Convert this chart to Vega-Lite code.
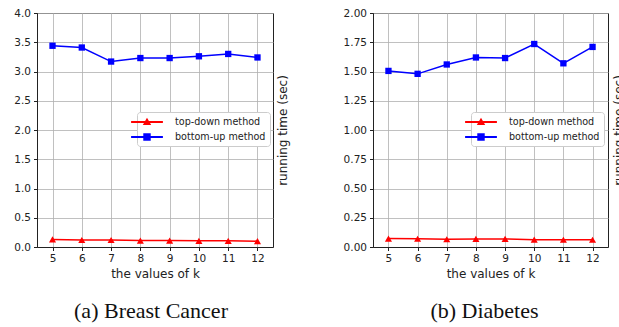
{
  "$schema": "https://vega.github.io/schema/vega-lite/v6.json",
  "padding": {"left": 13, "top": 7, "right": 0, "bottom": 0},
  "background": "white",
  "config": {
    "font": "DejaVu Sans",
    "view": {"stroke": "#222", "strokeWidth": 1},
    "axis": {
      "labelFont": "DejaVu Sans", "labelFontSize": 10.5, "labelColor": "#222",
      "titleFont": "DejaVu Sans", "titleFontSize": 12, "titleFontWeight": "normal", "titleColor": "#222",
      "gridColor": "#b0b0b0", "gridWidth": 0.8, "gridOpacity": 1,
      "domainColor": "#222", "tickColor": "#222", "tickSize": 3.5, "labelPadding": 3
    },
    "legend": {
      "labelFont": "DejaVu Sans", "labelFontSize": 9.6, "labelColor": "#222",
      "strokeColor": "#cccccc", "fillColor": "white", "padding": 4, "cornerRadius": 3,
      "rowPadding": 4, "symbolSize": 144, "labelOffset": 22, "symbolOpacity": 1, "symbolStrokeWidth": 0
    },
    "title": {"font": "Liberation Serif", "fontSize": 22, "fontWeight": "normal", "color": "#111", "orient": "bottom", "offset": 22}
  },
  "datasets": {
    "runs": [
      {"dataset": "Breast Cancer", "k": 5, "method": "top-down method", "time": 0.13},
      {"dataset": "Breast Cancer", "k": 6, "method": "top-down method", "time": 0.12},
      {"dataset": "Breast Cancer", "k": 7, "method": "top-down method", "time": 0.12},
      {"dataset": "Breast Cancer", "k": 8, "method": "top-down method", "time": 0.11},
      {"dataset": "Breast Cancer", "k": 9, "method": "top-down method", "time": 0.11},
      {"dataset": "Breast Cancer", "k": 10, "method": "top-down method", "time": 0.105},
      {"dataset": "Breast Cancer", "k": 11, "method": "top-down method", "time": 0.105},
      {"dataset": "Breast Cancer", "k": 12, "method": "top-down method", "time": 0.10},
      {"dataset": "Breast Cancer", "k": 5, "method": "bottom-up method", "time": 3.44},
      {"dataset": "Breast Cancer", "k": 6, "method": "bottom-up method", "time": 3.41},
      {"dataset": "Breast Cancer", "k": 7, "method": "bottom-up method", "time": 3.17},
      {"dataset": "Breast Cancer", "k": 8, "method": "bottom-up method", "time": 3.23},
      {"dataset": "Breast Cancer", "k": 9, "method": "bottom-up method", "time": 3.23},
      {"dataset": "Breast Cancer", "k": 10, "method": "bottom-up method", "time": 3.26},
      {"dataset": "Breast Cancer", "k": 11, "method": "bottom-up method", "time": 3.30},
      {"dataset": "Breast Cancer", "k": 12, "method": "bottom-up method", "time": 3.24},
      {"dataset": "Diabetes", "k": 5, "method": "top-down method", "time": 0.072},
      {"dataset": "Diabetes", "k": 6, "method": "top-down method", "time": 0.07},
      {"dataset": "Diabetes", "k": 7, "method": "top-down method", "time": 0.066},
      {"dataset": "Diabetes", "k": 8, "method": "top-down method", "time": 0.069},
      {"dataset": "Diabetes", "k": 9, "method": "top-down method", "time": 0.069},
      {"dataset": "Diabetes", "k": 10, "method": "top-down method", "time": 0.063},
      {"dataset": "Diabetes", "k": 11, "method": "top-down method", "time": 0.062},
      {"dataset": "Diabetes", "k": 12, "method": "top-down method", "time": 0.062},
      {"dataset": "Diabetes", "k": 5, "method": "bottom-up method", "time": 1.505},
      {"dataset": "Diabetes", "k": 6, "method": "bottom-up method", "time": 1.48},
      {"dataset": "Diabetes", "k": 7, "method": "bottom-up method", "time": 1.56},
      {"dataset": "Diabetes", "k": 8, "method": "bottom-up method", "time": 1.62},
      {"dataset": "Diabetes", "k": 9, "method": "bottom-up method", "time": 1.615},
      {"dataset": "Diabetes", "k": 10, "method": "bottom-up method", "time": 1.735},
      {"dataset": "Diabetes", "k": 11, "method": "bottom-up method", "time": 1.57},
      {"dataset": "Diabetes", "k": 12, "method": "bottom-up method", "time": 1.71}
    ]
  },
  "hconcat": [
    {
      "title": {"text": "(a) Breast Cancer", "dx": -4},
      "width": 236,
      "height": 234,
      "data": {"name": "runs"},
      "transform": [{"filter": "datum.dataset === 'Breast Cancer'"}],
      "encoding": {
        "x": {"field": "k", "type": "quantitative", "title": "the values of k",
              "scale": {"domain": [4.47, 12.53], "nice": false, "zero": false},
              "axis": {"values": [5, 6, 7, 8, 9, 10, 11, 12], "titlePadding": 4}},
        "y": {"field": "time", "type": "quantitative", "title": "running time (sec)",
              "scale": {"domain": [0, 4], "nice": false},
              "axis": {"values": [0, 0.5, 1, 1.5, 2, 2.5, 3, 3.5, 4], "format": ".1f",
                       "titleX": 252, "titleY": 117, "titleAngle": 270, "titleAlign": "center", "titleBaseline": "bottom"}}
      },
      "layer": [
        {"mark": {"type": "line", "strokeWidth": 1.5},
         "encoding": {"color": {"field": "method", "type": "nominal",
                  "scale": {"domain": ["top-down method", "bottom-up method"], "range": ["#ff0000", "#0000ff"]},
                  "legend": {"title": null, "orient": "none", "legendX": 100, "legendY": 99}}}},
        {"mark": {"type": "point", "filled": true, "opacity": 0, "size": 45},
         "encoding": {
           "color": {"field": "method", "type": "nominal"},
           "shape": {"field": "method", "type": "nominal",
                     "scale": {"domain": ["top-down method", "bottom-up method"],
                               "range": ["M-2.65,-0.15H2.65V0.15H-2.65ZM0,-0.7L0.7,0.5L-0.7,0.5Z", "M-2.65,-0.15H2.65V0.15H-2.65ZM-0.62,-0.62H0.62V0.62H-0.62Z"]},
                     "legend": {"title": null, "orient": "none", "legendX": 100, "legendY": 99}}}},
        {"transform": [{"filter": "datum.method === 'top-down method'"}],
         "mark": {"type": "point", "filled": true, "opacity": 1, "size": 50, "shape": "triangle-up", "color": "#ff0000"}},
        {"transform": [{"filter": "datum.method === 'bottom-up method'"}],
         "mark": {"type": "point", "filled": true, "opacity": 1, "size": 40, "shape": "square", "color": "#0000ff"}}
      ]
    },
    {
      "title": {"text": "(b) Diabetes", "dx": -6},
      "width": 235,
      "height": 234,
      "data": {"name": "runs"},
      "transform": [{"filter": "datum.dataset === 'Diabetes'"}],
      "encoding": {
        "x": {"field": "k", "type": "quantitative", "title": "the values of k",
              "scale": {"domain": [4.47, 12.53], "nice": false, "zero": false},
              "axis": {"values": [5, 6, 7, 8, 9, 10, 11, 12], "titlePadding": 4}},
        "y": {"field": "time", "type": "quantitative", "title": "running time (sec)",
              "scale": {"domain": [0, 2], "nice": false},
              "axis": {"values": [0, 0.25, 0.5, 0.75, 1, 1.25, 1.5, 1.75, 2], "format": ".2f",
                       "titleX": 252, "titleY": 117, "titleAngle": 270, "titleAlign": "center", "titleBaseline": "bottom"}}
      },
      "layer": [
        {"mark": {"type": "line", "strokeWidth": 1.5},
         "encoding": {"color": {"field": "method", "type": "nominal",
                  "scale": {"domain": ["top-down method", "bottom-up method"], "range": ["#ff0000", "#0000ff"]},
                  "legend": {"title": null, "orient": "none", "legendX": 98, "legendY": 99}}}},
        {"mark": {"type": "point", "filled": true, "opacity": 0, "size": 45},
         "encoding": {
           "color": {"field": "method", "type": "nominal"},
           "shape": {"field": "method", "type": "nominal",
                     "scale": {"domain": ["top-down method", "bottom-up method"],
                               "range": ["M-2.65,-0.15H2.65V0.15H-2.65ZM0,-0.7L0.7,0.5L-0.7,0.5Z", "M-2.65,-0.15H2.65V0.15H-2.65ZM-0.62,-0.62H0.62V0.62H-0.62Z"]},
                     "legend": {"title": null, "orient": "none", "legendX": 98, "legendY": 99}}}},
        {"transform": [{"filter": "datum.method === 'top-down method'"}],
         "mark": {"type": "point", "filled": true, "opacity": 1, "size": 50, "shape": "triangle-up", "color": "#ff0000"}},
        {"transform": [{"filter": "datum.method === 'bottom-up method'"}],
         "mark": {"type": "point", "filled": true, "opacity": 1, "size": 40, "shape": "square", "color": "#0000ff"}}
      ]
    }
  ],
  "spacing": 53,
  "resolve": {"scale": {"color": "independent", "shape": "independent"}, "legend": {"color": "independent", "shape": "independent"}}
}
